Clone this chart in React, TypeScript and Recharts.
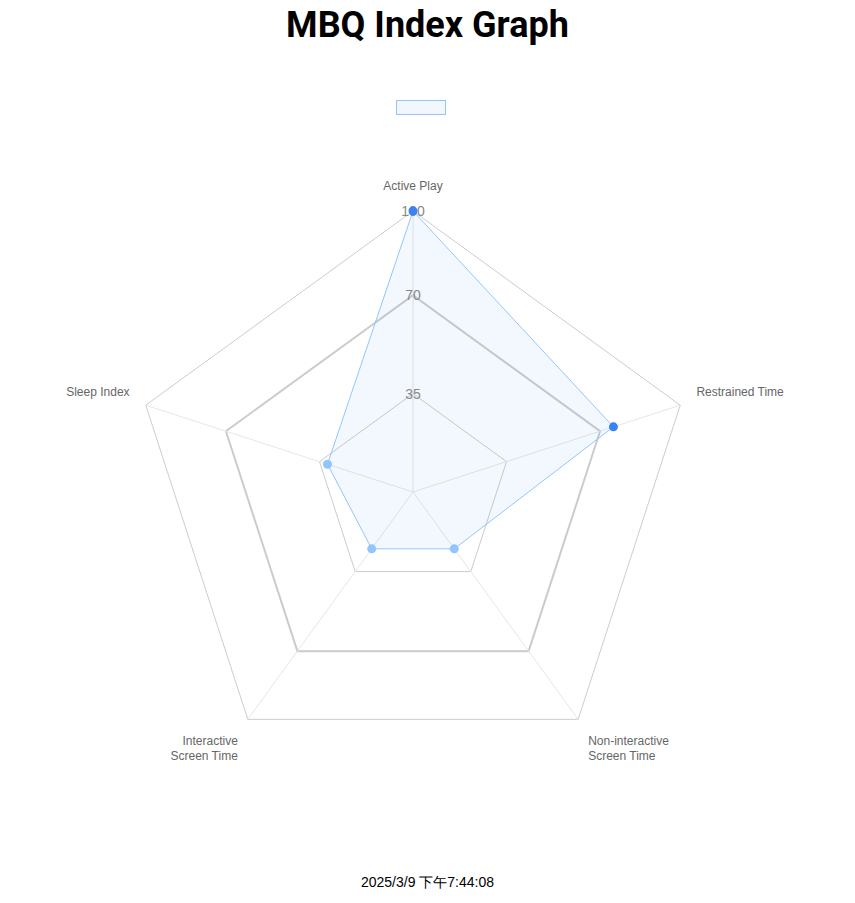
import React from 'react';
import { RadarChart, Radar, PolarGrid, PolarAngleAxis, PolarRadiusAxis } from 'recharts';

const categories = ['Active Play', 'Restrained Time', 'Non-interactive Screen Time', 'Interactive Screen Time', 'Sleep Index'];
const scores = [100, 75, 25, 25, 32];
const highlighted = [true, true, false, false, false];
const radiusTicks = [35, 70, 100];

const data = categories.map((subject, i) => ({ subject, value: scores[i] }));

const CX = 405;
const CY = 484;

const AngleTick = (props: any) => {
    const { x, y, textAnchor, payload } = props;
    const label: string = payload.value;
    const lines = label.length > 15 ? [label.split(' ')[0], label.split(' ').slice(1).join(' ')] : [label];
    // push labels a bit further out from the centre
    const dx0 = x - CX;
    const dy0 = y - CY;
    const len = Math.sqrt(dx0 * dx0 + dy0 * dy0) || 1;
    const px = x + (dx0 / len) * 9;
    let py = y + (dy0 / len) * 9;
    if (y > 500) py += 12;
    else if (y < 300) py -= 4;
    else py -= 4;
    return (
        <text x={px} y={py} textAnchor={textAnchor} fill="#666" fontSize={12} fontFamily="Arial, 'Liberation Sans', sans-serif">
            {lines.map((l, i) => (
                <tspan key={i} x={px} dy={i === 0 ? 0 : 15}>{l}</tspan>
            ))}
        </text>
    );
};

const RadiusTick = (props: any) => {
    const { x, y, payload } = props;
    return (
        <text x={x} y={y + 5} textAnchor="middle" fill="#888" fontSize={14} fontFamily="Arial, 'Liberation Sans', sans-serif">
            {payload.value}
        </text>
    );
};

const Dot = (props: any) => {
    const { cx, cy, index } = props;
    return <circle cx={cx} cy={cy} r={4.5} fill={highlighted[index] ? '#3b82f6' : '#93c5fd'} />;
};

export default function App() {
    return (
        <div style={{ position: 'relative', width: 839, height: 887, fontFamily: "Arial, 'Liberation Sans', sans-serif" }}>
            <div style={{ position: 'absolute', top: 0, left: 0, width: 839, textAlign: 'center', fontSize: 36, fontWeight: 'bold', lineHeight: '34px', fontFamily: "Roboto, sans-serif" }}>
                MBQ Index Graph
            </div>
            <RadarChart width={839} height={860} cx={CX} cy={CY} outerRadius={281} data={data} startAngle={90} endAngle={-270}>
                <PolarGrid gridType="polygon" polarRadius={radiusTicks.map(t => t * 2.81)} stroke="#ccc" radialLines={false} />
                <PolarGrid gridType="polygon" polarRadius={[70 * 2.81]} stroke="#ccc" strokeWidth={2} radialLines={false} />
                <PolarGrid gridType="polygon" polarRadius={[]} stroke="#e6e6e6" />
                <PolarAngleAxis dataKey="subject" tick={<AngleTick />} tickLine={false} axisLineType="polygon" stroke="none" />
                <PolarRadiusAxis angle={90} domain={[0, 100]} ticks={radiusTicks as any} axisLine={false} tick={<RadiusTick />} />
                <Radar dataKey="value" stroke="#93c5fd" fill="#3b82f6" fillOpacity={0.06} dot={<Dot />} isAnimationActive={false} />
            </RadarChart>
            <div style={{ position: 'absolute', left: 388, top: 92, width: 48, height: 13, border: '1px solid #93c5fd', background: '#f2f7fe' }} />
            <div style={{ position: 'absolute', left: 0, top: 866, width: 839, textAlign: 'center', fontSize: 14 }}>
                2025/3/9 下午7:44:08
            </div>
        </div>
    );
}
